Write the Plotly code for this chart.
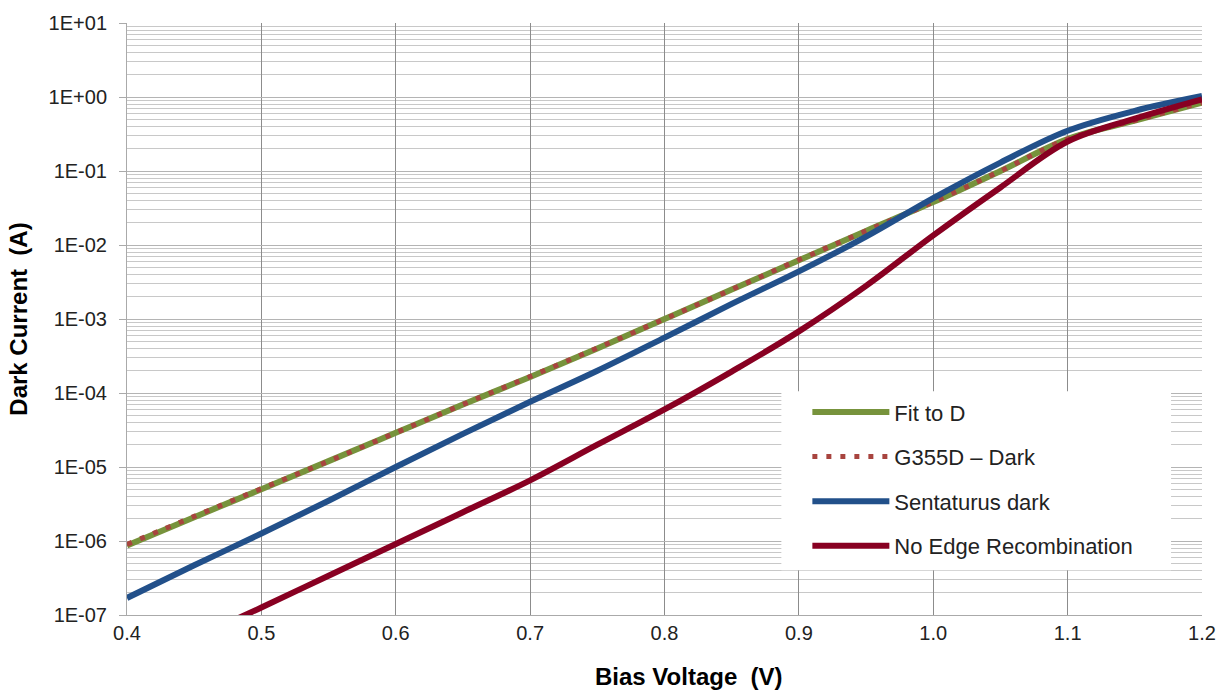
import plotly.graph_objects as go

# ---- data ----
bias_v = [0.40, 0.45, 0.50, 0.55, 0.60, 0.65, 0.70, 0.75, 0.80, 0.85,
          0.90, 0.95, 1.00, 1.05, 1.10, 1.15, 1.20]

fit_to_d = [8.7e-7, 2.1e-6, 5.0e-6, 1.2e-5, 2.9e-5, 7.0e-5, 1.65e-4, 4.0e-4,
            1.0e-3, 2.5e-3, 6.2e-3, 1.55e-2, 3.8e-2, 1.0e-1, 2.7e-1, 4.8e-1, 8.4e-1]

g355d_dark = [9.0e-7, 2.15e-6, 5.1e-6, 1.2e-5, 2.9e-5, 7.0e-5, 1.67e-4, 4.05e-4,
              1.0e-3, 2.5e-3, 6.3e-3, 1.55e-2, 3.8e-2, 1.0e-1, 2.7e-1, 4.8e-1, 8.4e-1]

sentaurus_dark = [1.7e-7, 4.7e-7, 1.26e-6, 3.5e-6, 1.0e-5, 2.8e-5, 7.6e-5, 2.0e-4,
                  5.6e-4, 1.6e-3, 4.4e-3, 1.3e-2, 4.3e-2, 1.3e-1, 3.5e-1, 6.5e-1, 1.03]

no_edge_v = [0.48, 0.50, 0.55, 0.60, 0.65, 0.70, 0.75, 0.80, 0.85,
             0.90, 0.95, 1.00, 1.05, 1.10, 1.15, 1.20]
no_edge_recomb = [8.6e-8, 1.26e-7, 3.4e-7, 9.1e-7, 2.45e-6, 6.6e-6, 2.0e-5, 6.0e-5,
                  1.95e-4, 6.8e-4, 2.8e-3, 1.35e-2, 6.0e-2, 2.5e-1, 5.1e-1, 9.3e-1]

y_tick_vals = [1e-7, 1e-6, 1e-5, 1e-4, 1e-3, 1e-2, 1e-1, 1e0, 1e1]
y_tick_text = ["1E-07", "1E-06", "1E-05", "1E-04", "1E-03", "1E-02", "1E-01", "1E+00", "1E+01"]
x_tick_vals = [0.4, 0.5, 0.6, 0.7, 0.8, 0.9, 1.0, 1.1, 1.2]
x_tick_text = ["0.4", "0.5", "0.6", "0.7", "0.8", "0.9", "1.0", "1.1", "1.2"]

minor_vals = [m * 10.0 ** e for e in range(-7, 1) for m in range(2, 10)]

FONT = "Liberation Sans, Arial, sans-serif"
SMOOTH = 1.0

fig = go.Figure()
fig.add_trace(go.Scatter(x=bias_v, y=fit_to_d, name="Fit to D", mode="lines",
                         line=dict(color="#77933C", width=6, shape="spline", smoothing=SMOOTH),
                         legendgroup="a"))
fig.add_trace(go.Scatter(x=bias_v, y=g355d_dark, name="G355D – Dark", mode="lines",
                         line=dict(color="#A8443F", width=5, dash="5px,9px", shape="spline", smoothing=SMOOTH),
                         legendgroup="b"))
fig.add_trace(go.Scatter(x=bias_v, y=sentaurus_dark, name="Sentaturus dark", mode="lines",
                         line=dict(color="#22508A", width=6, shape="spline", smoothing=SMOOTH),
                         legendgroup="c"))
fig.add_trace(go.Scatter(x=no_edge_v, y=no_edge_recomb, name="No Edge Recombination", mode="lines",
                         line=dict(color="#880022", width=6, shape="spline", smoothing=SMOOTH),
                         legendgroup="d"))

# white panel behind the legend (hides the grid like the reference)
fig.add_shape(type="rect", xref="paper", yref="paper",
              x0=0.6087, x1=0.9712, y0=0.0756, y1=0.378,
              fillcolor="white", line=dict(width=0), layer="above")

fig.add_annotation(text="<b>Bias Voltage  (V)</b>", xref="paper", yref="paper",
                   x=0.5232, y=-0.1042, xanchor="center", yanchor="middle", showarrow=False,
                   font=dict(family=FONT, size=24, color="black"))

fig.update_layout(
    width=1228, height=690,
    margin=dict(l=127, r=25, t=20, b=75),
    paper_bgcolor="white", plot_bgcolor="white",
    font=dict(family=FONT, size=20, color="#222222"),
    showlegend=True,
    legend=dict(x=0.6329, y=0.378, xanchor="left", yanchor="top",
                bgcolor="rgba(0,0,0,0)", borderwidth=0,
                font=dict(family=FONT, size=22, color="#222222"),
                itemwidth=77, tracegroupgap=13, traceorder="grouped"),
    xaxis=dict(range=[0.4, 1.2], tickmode="array", tickvals=x_tick_vals, ticktext=x_tick_text,
               showgrid=True, gridcolor="#8C8C8C", gridwidth=1,
               showline=True, linecolor="#AAAAAA", linewidth=1,
               ticks="", zeroline=False,
               tickfont=dict(family=FONT, size=20, color="#222222")),
    yaxis=dict(type="log", range=[-7, 1], tickmode="array", tickvals=y_tick_vals, ticktext=y_tick_text,
               showgrid=True, gridcolor="#B4B4B4", gridwidth=1,
               showline=True, linecolor="#AAAAAA", linewidth=1,
               ticks="outside", ticklen=7, tickcolor="#AAAAAA", zeroline=False,
               ticklabelstandoff=8,
               tickfont=dict(family=FONT, size=20, color="#222222"),
               minor=dict(tickmode="array", tickvals=minor_vals, showgrid=True,
                          gridcolor="#C8C8C8", gridwidth=1, ticks=""),
               title=dict(text="<b>Dark Current  (A)</b>", font=dict(family=FONT, size=24, color="black"),
                          standoff=14)),
)

fig.write_html("out.html")
